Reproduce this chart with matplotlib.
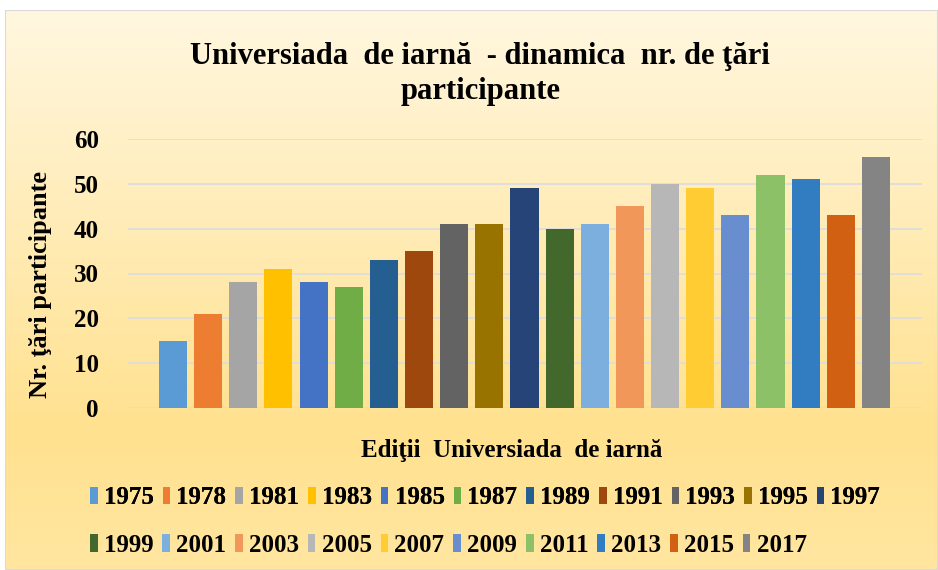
import numpy as np
import matplotlib.pyplot as plt
from matplotlib.colors import LinearSegmentedColormap
from matplotlib.patches import Patch, Rectangle

years = ["1975", "1978", "1981", "1983", "1985", "1987", "1989", "1991", "1993", "1995", "1997",
         "1999", "2001", "2003", "2005", "2007", "2009", "2011", "2013", "2015", "2017"]
countries = [15, 21, 28, 31, 28, 27, 33, 35, 41, 41, 49, 40, 41, 45, 50, 49, 43, 52, 51, 43, 56]
colors = ["#5B9BD5", "#ED7D31", "#A5A5A5", "#FFC000", "#4472C4", "#70AD47", "#255E91",
          "#9E480E", "#636363", "#997300", "#264478", "#43682B", "#7CAFDD", "#F1975A",
          "#B7B7B7", "#FFCD33", "#698ED0", "#8CC168", "#327DC2", "#D26012", "#848484"]

plt.rcParams['font.family'] = ['Liberation Serif', 'DejaVu Serif']
plt.rcParams['font.weight'] = 'bold'

fig = plt.figure(figsize=(9.38, 5.70), dpi=100)

# background gradient
bg = fig.add_axes([5/938, 0, 1 - 5/938, 1 - 10/570])
cmap = LinearSegmentedColormap.from_list("bg", [(0, "#FFF7E0"), (0.75, "#FFE18F"), (1, "#FFE6A0")])
bg.imshow(np.linspace(0, 1, 256).reshape(-1, 1), aspect="auto", cmap=cmap,
          extent=[0, 1, 0, 1], origin="upper")
bg.add_patch(Rectangle((0, 0), 1, 1, transform=bg.transAxes, fill=False,
                       edgecolor="#D9D9D9", linewidth=1.5))
bg.axis("off")

ax = fig.add_axes([128/938, 162/570, 794/938, 269/570])
ax.set_facecolor("none")
x = np.arange(len(years))
ax.bar(x, countries, width=0.8, color=colors, zorder=3)

ax.set_ylim(0, 60)
ax.set_xlim(-1.28, 21.31)
ax.set_yticks(range(0, 61, 10))
ax.set_xticks([])
ax.grid(axis="y", color="#D9DCE3", linewidth=1.2, zorder=0)
for s in ax.spines.values():
    s.set_visible(False)
ax.tick_params(axis="y", length=0, pad=21, labelsize=18)

fig.text(0.512, 0.87, "Universiada  de iarnă  - dinamica  nr. de ţări\nparticipante",
         ha="center", va="center", fontsize=22, fontweight="bold", linespacing=1.3)
fig.text(0.043, 0.50, "Nr. ţări participante", rotation=90, ha="center", va="center",
         fontsize=19, fontweight="bold")
fig.text(0.545, 0.21, "Ediţii  Universiada  de iarnă", ha="center", va="center",
         fontsize=18, fontweight="bold")

handles = [Patch(facecolor=c, label=y) for c, y in zip(colors, years)]
opts = dict(frameon=False, fontsize=18, handlelength=0.3, handleheight=0.7,
            handletextpad=0.25, columnspacing=0.36, borderpad=0, borderaxespad=0)
leg1 = fig.legend(handles=handles[:11], ncol=11, loc="center left",
                  bbox_to_anchor=(0.096, 0.127), **opts)
fig.add_artist(leg1)
fig.legend(handles=handles[11:], ncol=10, loc="center left",
           bbox_to_anchor=(0.096, 0.043), **opts)

fig.savefig("out.png", dpi=100)
